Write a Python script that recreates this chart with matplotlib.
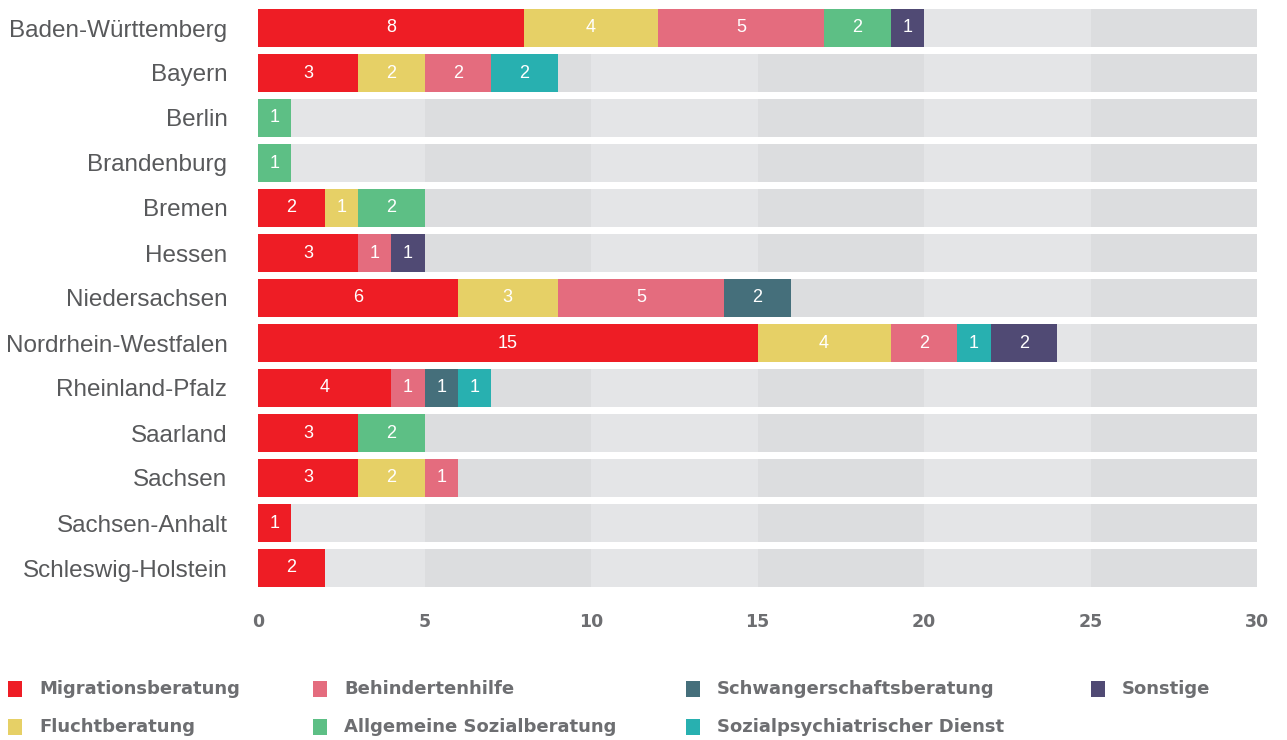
import matplotlib.pyplot as plt
import numpy as np
from matplotlib.patches import Rectangle

plt.rcParams['font.family'] = ['Liberation Sans', 'DejaVu Sans']

laender = ["Baden-Württemberg", "Bayern", "Berlin", "Brandenburg", "Bremen", "Hessen",
           "Niedersachsen", "Nordrhein-Westfalen", "Rheinland-Pfalz", "Saarland",
           "Sachsen", "Sachsen-Anhalt", "Schleswig-Holstein"]

kategorien = ["Migrationsberatung", "Fluchtberatung", "Behindertenhilfe",
              "Allgemeine Sozialberatung", "Schwangerschaftsberatung",
              "Sozialpsychiatrischer Dienst", "Sonstige"]

migration = [8, 3, 0, 0, 2, 3, 6, 15, 4, 3, 3, 1, 2]
flucht    = [4, 2, 0, 0, 1, 0, 3, 4, 0, 0, 2, 0, 0]
behindert = [5, 2, 0, 0, 0, 1, 5, 2, 1, 0, 1, 0, 0]
allgemein = [2, 0, 1, 1, 2, 0, 0, 0, 0, 2, 0, 0, 0]
schwanger = [0, 0, 0, 0, 0, 0, 2, 0, 1, 0, 0, 0, 0]
sozpsych  = [0, 2, 0, 0, 0, 0, 0, 1, 1, 0, 0, 0, 0]
sonstige  = [1, 0, 0, 0, 0, 1, 0, 2, 0, 0, 0, 0, 0]

farben = ["#ee1d25", "#e6d066", "#e46c7e", "#5dbf85", "#456f7b", "#28b0b0", "#504a74"]

x_max = 30
band = 5

fig = plt.figure(figsize=(12.87, 7.40), dpi=100)
ax = fig.add_axes([258 / 1287, 1 - 590.5 / 740, 999 / 1287, 585 / 740])

y = np.arange(len(laender))
h = 0.85

# background bands, alternating light / dark every 5
for i, start in enumerate(range(0, x_max, band)):
    c = "#e4e5e7" if i % 2 == 0 else "#dcdddf"
    ax.barh(y, band, left=start, height=h, color=c, linewidth=0)

serien = [migration, flucht, behindert, allgemein, schwanger, sozpsych, sonstige]
links = np.zeros(len(laender))
for werte, farbe in zip(serien, farben):
    werte = np.array(werte)
    ax.barh(y, werte, left=links, height=h, color=farbe, linewidth=0)
    for yi, (l, w) in enumerate(zip(links, werte)):
        if w > 0:
            ax.text(l + w / 2, yi, str(w), ha="center", va="center",
                    color="white", fontsize=13)
    links += werte

ax.set_xlim(0, x_max)
ax.set_ylim(len(laender) - 0.5, -0.5)
ax.set_yticks(y)
ax.set_yticklabels(laender, fontsize=17.5, color="#58595b")
ax.set_xticks(range(0, x_max + 1, band))
ax.set_xticklabels([str(v) for v in range(0, x_max + 1, band)], fontsize=12.5,
                   fontweight="bold", color="#6d6e71", family="DejaVu Sans")
ax.tick_params(length=0)
ax.tick_params(axis="y", pad=22)
ax.tick_params(axis="x", pad=16)
for s in ax.spines.values():
    s.set_visible(False)

# legend, four columns, filled column-wise
spalten_x = [8, 313, 686, 1091]
zeilen_y = [689, 727]
for k, (name, farbe) in enumerate(zip(kategorien, farben)):
    sx = spalten_x[k // 2]
    sy = zeilen_y[k % 2]
    fig.patches.append(Rectangle((sx / 1287, 1 - (sy + 8) / 740), 14 / 1287, 16 / 740,
                                 transform=fig.transFigure, color=farbe, linewidth=0))
    fig.text((sx + 31) / 1287, 1 - sy / 740, name, ha="left", va="center",
             fontsize=13, fontweight="bold", color="#6d6e71", family="DejaVu Sans")

fig.savefig("out.png", dpi=100)
